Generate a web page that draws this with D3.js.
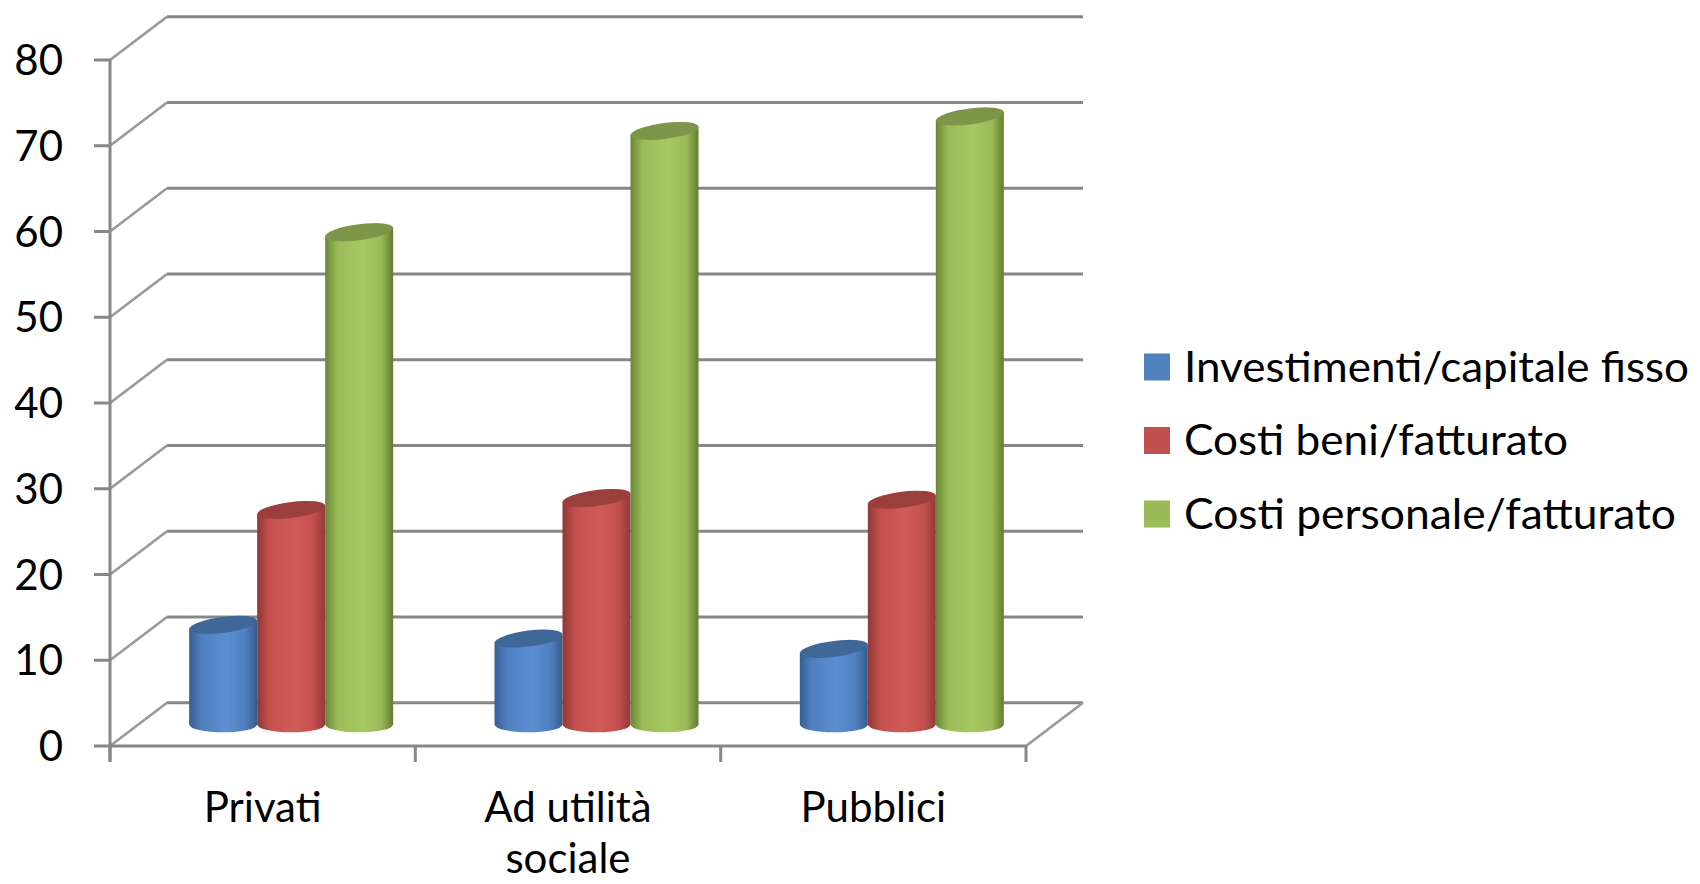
<!DOCTYPE html>
<html>
<head>
<meta charset="utf-8">
<script src="https://cdn.jsdelivr.net/npm/d3@7"></script>
<style>
  html, body { margin: 0; padding: 0; background: #ffffff; }
  svg { display: block; }
  text { font-family: Lato, "Open Sans", sans-serif; fill: #000; }
</style>
</head>
<body>
<svg id="chart" width="1700" height="884"></svg>
<script>
// Categories and series values
const categories = ["Privati", "Ad utilità sociale", "Pubblici"];
const categoryLines = [["Privati"], ["Ad utilità", "sociale"], ["Pubblici"]];
const seriesNames = ["Investimenti/capitale fisso", "Costi beni/fatturato", "Costi personale/fatturato"];
const investimentiCapitale = [11.6, 10.0, 8.8];
const costiBeni = [25.0, 26.4, 26.2];
const costiPersonale = [57.4, 69.2, 70.9];
const yTicks = [0, 10, 20, 30, 40, 50, 60, 70, 80];

const seriesValues = [investimentiCapitale, costiBeni, costiPersonale];

// Colour ramps for each series: edges, mid, highlight, top cap, legend swatch
const palettes = [
  { edgeL: "#365f93", mid: "#4f80c0", light: "#5b8fd2", edgeR: "#355c8f", top: "#3f6898", swatch: "#4f81bd" },
  { edgeL: "#8e3836", mid: "#c4504d", light: "#d25b58", edgeR: "#93393a", top: "#9b3f3d", swatch: "#c0504d" },
  { edgeL: "#6a8636", mid: "#9bbb59", light: "#a8c862", edgeR: "#627d30", top: "#7d9549", swatch: "#9bbb59" }
];

const svg = d3.select("#chart");
const defs = svg.append("defs");

// Plot frame
const left = 110, right = 1026;
const depthX = 57, depthY = -43.3;
const y = d3.scaleLinear().domain([0, 80]).range([746, 60]);
const x = d3.scaleBand().domain(categories).range([left, right]).paddingInner(0).paddingOuter(0);
const xs = d3.scaleBand().domain(seriesNames).range([-102, 102]).padding(0);

const gridColor = "#878787";

// Back wall gridlines
const grid = svg.append("g");
grid.selectAll("line.back").data(yTicks).join("line")
  .attr("x1", left + depthX).attr("x2", right + depthX)
  .attr("y1", d => y(d) + depthY).attr("y2", d => y(d) + depthY)
  .attr("stroke", gridColor).attr("stroke-width", 3);

// Side wall diagonals
grid.selectAll("line.side").data(yTicks).join("line")
  .attr("x1", left).attr("x2", left + depthX)
  .attr("y1", d => y(d)).attr("y2", d => y(d) + depthY)
  .attr("stroke", "#999").attr("stroke-width", 2.6);

// Floor right edge
grid.append("line")
  .attr("x1", right).attr("y1", y(0))
  .attr("x2", right + depthX).attr("y2", y(0) + depthY)
  .attr("stroke", "#999").attr("stroke-width", 2.6);

// Front axes
grid.append("line")
  .attr("x1", left).attr("x2", left)
  .attr("y1", y(80)).attr("y2", y(0) + 16)
  .attr("stroke", gridColor).attr("stroke-width", 3);
grid.append("line")
  .attr("x1", left).attr("x2", right)
  .attr("y1", y(0)).attr("y2", y(0))
  .attr("stroke", gridColor).attr("stroke-width", 3);

// Value ticks
grid.selectAll("line.ytick").data(yTicks).join("line")
  .attr("x1", left - 16).attr("x2", left)
  .attr("y1", d => y(d)).attr("y2", d => y(d))
  .attr("stroke", gridColor).attr("stroke-width", 3);

// Category ticks
const catEdges = categories.map(c => x(c)).concat([right]);
grid.selectAll("line.xtick").data(catEdges).join("line")
  .attr("x1", d => d).attr("x2", d => d)
  .attr("y1", y(0)).attr("y2", y(0) + 16)
  .attr("stroke", gridColor).attr("stroke-width", 3);

// Value labels
svg.append("g").selectAll("text").data(yTicks).join("text")
  .attr("x", 63).attr("y", d => y(d) + 15)
  .attr("text-anchor", "end")
  .attr("font-size", 42)
  .text(d => d);

// Category labels
const catG = svg.append("g");
categories.forEach((c, i) => {
  const t = catG.append("text")
    .attr("x", x(c) + x.bandwidth() / 2)
    .attr("y", 822)
    .attr("text-anchor", "middle")
    .attr("font-size", 42);
  categoryLines[i].forEach((line, k) => {
    t.append("tspan")
      .attr("x", x(c) + x.bandwidth() / 2)
      .attr("dy", k === 0 ? 0 : 51)
      .text(line);
  });
});

// Cylinder gradients
palettes.forEach((p, j) => {
  const g = defs.append("linearGradient")
    .attr("id", "cyl" + j)
    .attr("x1", "0").attr("x2", "1").attr("y1", "0").attr("y2", "0");
  g.append("stop").attr("offset", "0%").attr("stop-color", p.edgeL);
  g.append("stop").attr("offset", "18%").attr("stop-color", p.mid);
  g.append("stop").attr("offset", "55%").attr("stop-color", p.light);
  g.append("stop").attr("offset", "82%").attr("stop-color", p.mid);
  g.append("stop").attr("offset", "100%").attr("stop-color", p.edgeR);
});

// Cylinders, sitting at mid-depth of the floor
const rx = xs.bandwidth() / 2;
const ry = 8;
const tilt = Math.tan(-7 * Math.PI / 180);
const bars = [];
categories.forEach((c, i) => {
  seriesNames.forEach((s, j) => {
    bars.push({ cat: c, series: s, j, value: seriesValues[j][i] });
  });
});

const cylG = svg.append("g");
const cyl = cylG.selectAll("g.cyl").data(bars).join("g");

cyl.append("path")
  .attr("fill", d => `url(#cyl${d.j})`)
  .attr("d", d => {
    const cx = x(d.cat) + x.bandwidth() / 2 + depthX / 2 + xs(d.series) + rx;
    const top = y(d.value) + depthY / 2;
    const bot = y(0) + depthY / 2;
    const dyT = rx * tilt;
    return `M${cx - rx},${top - dyT} L${cx - rx},${bot} ` +
           `A${rx},${ry} 0 0 0 ${cx + rx},${bot} ` +
           `L${cx + rx},${top + dyT} Z`;
  });

cyl.append("ellipse")
  .attr("transform", d => {
    const cx = x(d.cat) + x.bandwidth() / 2 + depthX / 2 + xs(d.series) + rx;
    const top = y(d.value) + depthY / 2;
    return `translate(${cx},${top}) skewY(-7)`;
  })
  .attr("rx", rx).attr("ry", ry)
  .attr("fill", d => palettes[d.j].top);

// Legend
const legend = svg.append("g");
const legendWidths = [505, 384, 492];
seriesNames.forEach((s, j) => {
  const by = 381.5 + j * 73.5;
  legend.append("rect")
    .attr("x", 1144).attr("y", by - 28)
    .attr("width", 26).attr("height", 27)
    .attr("fill", palettes[j].swatch);
  legend.append("text")
    .attr("x", 1184).attr("y", by)
    .attr("font-size", 43)
    .attr("textLength", legendWidths[j])
    .attr("lengthAdjust", "spacingAndGlyphs")
    .text(s);
});
</script>
</body>
</html>
